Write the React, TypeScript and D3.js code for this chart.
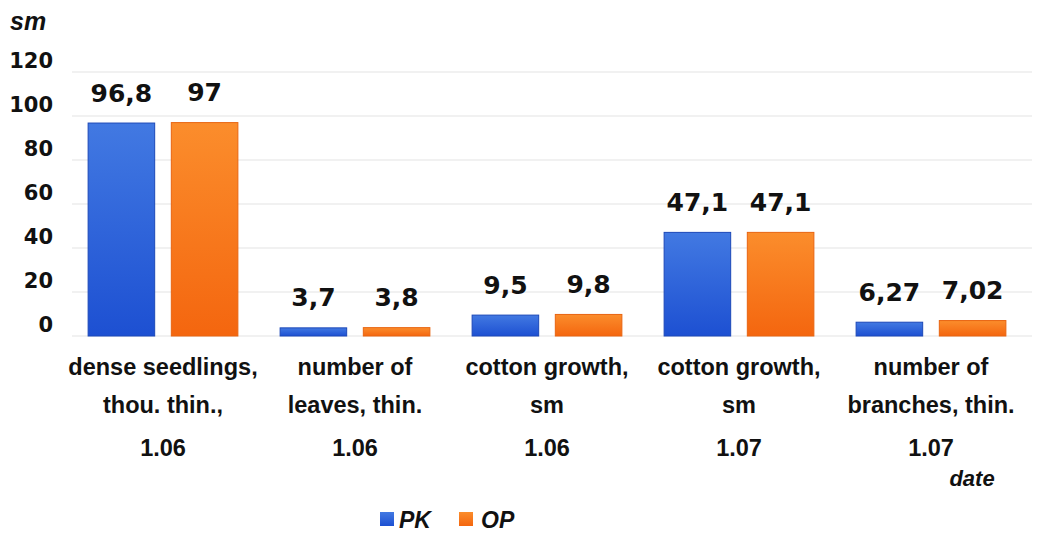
import React from "react";
import * as d3 from "d3";

const categoryLines: string[][] = [
  ["dense seedlings,", "thou. thin.,", "1.06"],
  ["number of", "leaves, thin.", "1.06"],
  ["cotton growth,", "sm", "1.06"],
  ["cotton growth,", "sm", "1.07"],
  ["number of", "branches, thin.", "1.07"],
];
const categories = ["c1", "c2", "c3", "c4", "c5"];
const seriesNames = ["PK", "OP"];
const pkValues = [96.8, 3.7, 9.5, 47.1, 6.27];
const opValues = [97, 3.8, 9.8, 47.1, 7.02];
const pkLabels = ["96,8", "3,7", "9,5", "47,1", "6,27"];
const opLabels = ["97", "3,8", "9,8", "47,1", "7,02"];
const yTicks = [0, 20, 40, 60, 80, 100, 120];

const W = 1043;
const H = 535;

export default function App() {
  const x0 = d3
    .scaleBand<string>()
    .domain(categories)
    .range([67, 1027])
    .paddingInner(0.22)
    .paddingOuter(0.11);
  const x1 = d3
    .scaleBand<string>()
    .domain(seriesNames)
    .range([0, x0.bandwidth()])
    .paddingInner(0.2);
  const y = d3.scaleLinear().domain([0, 120]).range([336, 72]);

  const series = [
    { name: "PK", values: pkValues, labels: pkLabels, fill: "url(#gBlue)", stroke: "#1c48b8" },
    { name: "OP", values: opValues, labels: opLabels, fill: "url(#gOrange)", stroke: "#e86410" },
  ];

  const num = "'DejaVu Sans', Verdana, sans-serif";
  const sans = "'Liberation Sans', Arial, sans-serif";

  return (
    <svg
      width={W}
      height={H}
      style={{ position: "absolute", left: 0, top: 0, background: "#fff" }}
    >
      <defs>
        <linearGradient id="gBlue" x1="0" y1="0" x2="0" y2="1">
          <stop offset="0" stopColor="#4279e2" />
          <stop offset="1" stopColor="#1d50d2" />
        </linearGradient>
        <linearGradient id="gOrange" x1="0" y1="0" x2="0" y2="1">
          <stop offset="0" stopColor="#fb8d2c" />
          <stop offset="1" stopColor="#f4660f" />
        </linearGradient>
      </defs>

      {/* y axis unit */}
      <text x={10} y={30} fontFamily={sans} fontWeight="bold" fontStyle="italic" fontSize={25} fill="#111">
        sm
      </text>

      {/* gridlines */}
      {yTicks.map((t) => (
        <line key={"g" + t} x1={72} x2={1032} y1={y(t)} y2={y(t)} stroke="#e4e4e4" strokeWidth={1.2} />
      ))}
      {/* tick labels */}
      {yTicks.map((t) => (
        <text
          key={"t" + t}
          x={53}
          y={y(t) - 11}
          textAnchor="end"
          dominantBaseline="central"
          fontFamily={num}
          fontWeight="bold"
          fontSize={21}
          fill="#111"
        >
          {t}
        </text>
      ))}

      {/* bars */}
      {categories.map((c, i) => (
        <g key={c} transform={`translate(${x0(c)},0)`}>
          {series.map((s) => {
            const bx = x1(s.name)!;
            const top = y(s.values[i]);
            return (
              <g key={s.name}>
                <rect
                  x={bx}
                  y={top}
                  width={x1.bandwidth()}
                  height={y(0) - top}
                  fill={s.fill}
                  stroke={s.stroke}
                  strokeWidth={1}
                />
                <text
                  x={bx + x1.bandwidth() / 2}
                  y={top - 30}
                  textAnchor="middle"
                  dominantBaseline="central"
                  fontFamily={num}
                  fontWeight="bold"
                  fontSize={25}
                  fill="#111"
                >
                  {s.labels[i]}
                </text>
              </g>
            );
          })}
        </g>
      ))}

      {/* category labels */}
      {categories.map((c, i) => {
        const cx = x0(c)! + x0.bandwidth() / 2;
        const ys = [367, 405, 448];
        return (
          <g key={"l" + c}>
            {categoryLines[i].map((line, j) => (
              <text
                key={j}
                x={cx}
                y={ys[j]}
                textAnchor="middle"
                dominantBaseline="central"
                fontFamily={sans}
                fontWeight="bold"
                fontSize={23.5}
                fill="#111"
              >
                {line}
              </text>
            ))}
          </g>
        );
      })}

      {/* x axis unit */}
      <text
        x={972}
        y={478}
        textAnchor="middle"
        dominantBaseline="central"
        fontFamily={sans}
        fontWeight="bold"
        fontStyle="italic"
        fontSize={22}
        fill="#111"
      >
        date
      </text>

      {/* legend */}
      <rect x={380} y={512} width={14} height={14} fill="url(#gBlue)" />
      <text x={399} y={520} dominantBaseline="central" fontFamily={sans} fontWeight="bold" fontStyle="italic" fontSize={23} fill="#111">
        PK
      </text>
      <rect x={459} y={512} width={14} height={14} fill="url(#gOrange)" />
      <text x={481} y={520} dominantBaseline="central" fontFamily={sans} fontWeight="bold" fontStyle="italic" fontSize={23} fill="#111">
        OP
      </text>
    </svg>
  );
}
